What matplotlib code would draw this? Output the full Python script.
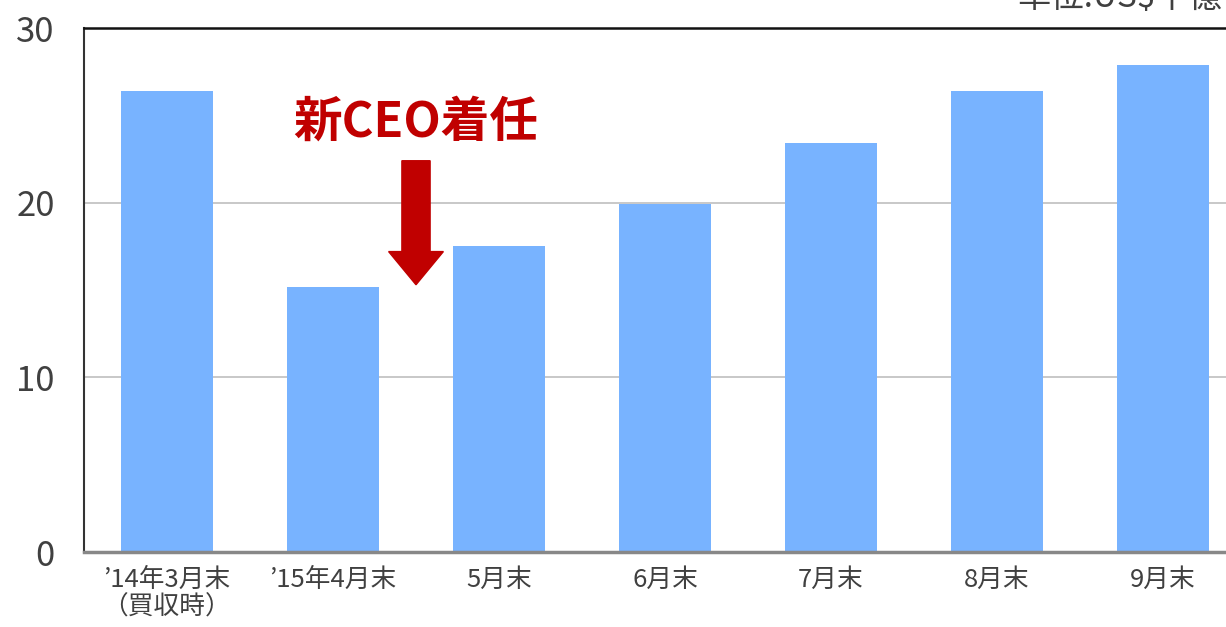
import matplotlib
matplotlib.use('Agg')
from matplotlib import pyplot as plt
from matplotlib.patches import FancyArrow

plt.rcParams['font.family'] = ['Noto Sans CJK JP', 'DejaVu Sans']

labels = ['\u201914年3月末\n（買収時）', '\u201915年4月末', '5月末', '6月末', '7月末', '8月末', '9月末']
values = [26.4, 15.2, 17.5, 19.9, 23.4, 26.4, 27.9]

fig = plt.figure(figsize=(12.26, 6.27), dpi=100)
ax = fig.add_axes([84/1226, 75/627, 1162/1226, 524/627])

x = range(len(values))
ax.bar(x, values, width=0.56, color='#78B3FF', zorder=2)

ax.set_xlim(-0.5, 6.5)
ax.set_ylim(0, 30)
ax.set_yticks([0, 10, 20, 30])
ax.set_xticks(list(x))
ax.set_xticklabels(labels, fontsize=18.5, color='#404040', linespacing=1.05)
ax.tick_params(axis='y', labelsize=25, colors='#404040', length=0, pad=21)
ax.tick_params(axis='x', length=0, pad=11)
ax.yaxis.grid(True, color='#BFBFBF', linewidth=1.2, zorder=1)

ax.spines['top'].set_color('#111111')
ax.spines['top'].set_linewidth(1.8)
ax.spines['left'].set_color('#333333')
ax.spines['left'].set_linewidth(1.5)
ax.spines['bottom'].set_color('#888888')
ax.spines['bottom'].set_linewidth(2.5)
ax.spines['right'].set_visible(False)

# annotation
ax.text(1.5, 24.6, '新CEO着任', color='#C00000', fontsize=35, fontweight='bold',
        ha='center', va='center')
arr = FancyArrow(1.5, 22.4, 0, -7.1, width=0.17, head_width=0.33, head_length=1.9,
                 length_includes_head=True, color='#C00000', zorder=3)
ax.add_patch(arr)

fig.text(0.83, 1.004, '単位:US$十億', fontsize=24, color='#404040', ha='left', va='center')

fig.savefig('out.png', dpi=100)
